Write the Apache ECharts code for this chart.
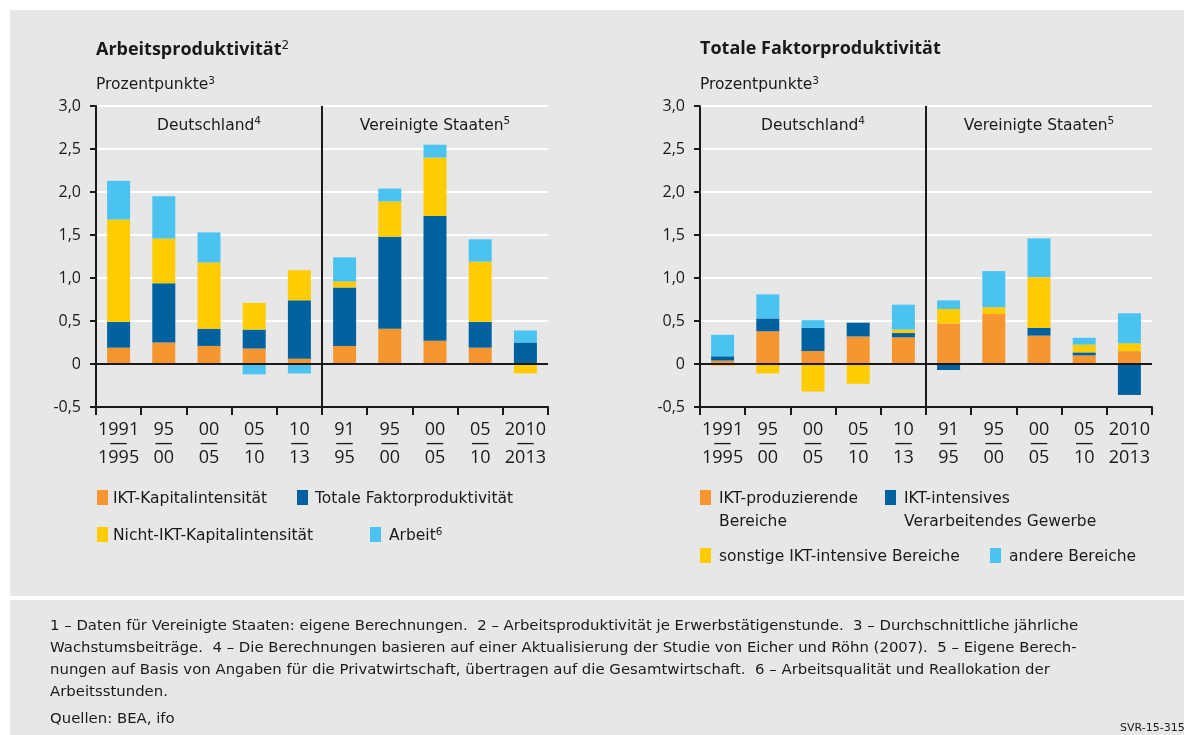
<!DOCTYPE html>
<html><head><meta charset="utf-8">
<script src="https://cdn.jsdelivr.net/npm/echarts@6/dist/echarts.min.js"></script>
<style>html,body{margin:0;padding:0;background:#fff}#c{width:1184px;height:735px}</style>
</head><body><div id="c"></div>
<script>
// ---- data ----
const catTop    = ['1991','95','00','05','10','91','95','00','05','2010'];
const catBottom = ['1995','00','05','10','13','95','00','05','10','2013'];
const regions   = ['Deutschland','Vereinigte Staaten'];
const regionSup = ['4','5'];

// Arbeitsproduktivität (left)
const leftNames = ['IKT-Kapitalintensität','Totale Faktorproduktivität','Nicht-IKT-Kapitalintensität','Arbeit'];
const leftIKT    = [0.19, 0.25, 0.21, 0.18, 0.06, 0.21, 0.41, 0.27, 0.19, 0.00];
const leftTFP    = [0.30, 0.69, 0.20, 0.22, 0.68, 0.68, 1.07, 1.45, 0.30, 0.25];
const leftNonIKT = [1.19, 0.52, 0.77, 0.31, 0.35, 0.07, 0.41, 0.68, 0.70, -0.11];
const leftArbeit = [0.45, 0.49, 0.35, -0.12, -0.11, 0.28, 0.15, 0.15, 0.26, 0.14];

// Totale Faktorproduktivität (right)
const rightNames = ['IKT-produzierende Bereiche','IKT-intensives Verarbeitendes Gewerbe','sonstige IKT-intensive Bereiche','andere Bereiche'];
const rightProd   = [0.04, 0.38, 0.15, 0.32, 0.31, 0.47, 0.58, 0.33, 0.10, 0.15];
const rightManuf  = [0.05, 0.15, 0.27, 0.16, 0.05, -0.07, -0.01, 0.09, 0.035, -0.36];
const rightOther  = [-0.02, -0.11, -0.32, -0.23, 0.04, 0.17, 0.08, 0.59, 0.09, 0.09];
const rightRest   = [0.25, 0.28, 0.09, 0.00, 0.29, 0.10, 0.42, 0.45, 0.08, 0.35];

const colors = ['#F7962F','#0061A1','#FFCC00','#4BC3F0'];
const NUMF = 'Open Sans';
const FONT = 'DejaVu Sans';
const TXT = '#1a1a1a';

const chart = echarts.init(document.getElementById('c'), null, {renderer:'canvas'});

const plotTop = 106, plotBottom = 407;
const grids = [
  {left: 96, width: 452, top: plotTop, height: plotBottom - plotTop},
  {left: 700, width: 452, top: plotTop, height: plotBottom - plotTop}
];

function xAxes(gi){
  return [{
    type:'category', gridIndex:gi, position:'bottom',
    data: catTop.map((t,i)=>t+'–'+catBottom[i]+'#'+i),
    axisLine:{onZero:false, lineStyle:{color:'#1a1a1a', width:2}},
    axisTick:{show:true, interval:0, length:8, lineStyle:{color:'#1a1a1a', width:2}},
    axisLabel:{interval:0, margin:15, color:TXT, fontFamily:NUMF,
      formatter:(v,i)=>'{a|'+catTop[i]+'}\n{d|—}\n{a|'+catBottom[i]+'}',
      rich:{a:{fontSize:18, lineHeight:15, fontFamily:NUMF, color:TXT},
            d:{fontSize:18, lineHeight:13, fontFamily:NUMF, color:TXT}}},
    splitLine:{show:false}
  },{
    type:'category', gridIndex:gi, position:'top',
    data: regions,
    axisLine:{show:false}, axisTick:{show:false},
    axisLabel:{inside:true, interval:0, margin:10, color:TXT, fontFamily:FONT, fontSize:15,
      formatter:(v,i)=>'{n|'+v+'}{s|'+regionSup[i]+'}',
      rich:{n:{fontSize:15.5, fontFamily:FONT, color:TXT}, s:{fontSize:10.5, fontFamily:FONT, color:TXT, padding:[0,0,8,0]}}},
    splitLine:{show:false}
  }];
}
function yAxis(gi){
  return {
    type:'value', gridIndex:gi, min:-0.5, max:3.0, interval:0.5,
    axisLine:{show:true, lineStyle:{color:'#1a1a1a', width:2}},
    axisTick:{show:true, length:6, lineStyle:{color:'#1a1a1a', width:2}},
    axisLabel:{margin:15, color:TXT, fontFamily:NUMF, fontSize:16,
      formatter:v=> v===0 ? '0' : v.toFixed(1).replace('.',',')},
    splitLine:{show:true, lineStyle:{color:'#ffffff', width:2}}
  };
}
function makeSeries(gi, names, arrs){
  return arrs.map((arr,k)=>({
    type:'bar', name:names[k], xAxisIndex:gi*2, yAxisIndex:gi, stack:'s'+gi,
    data:arr, barWidth:23, itemStyle:{color:colors[k]},
    markLine: k===0 ? {silent:true, symbol:'none', label:{show:false},
      lineStyle:{color:'#1a1a1a', width:2, type:'solid'}, data:[{yAxis:0}]} : undefined,
    z: 2
  }));
}

const LF = 15.5;
function sq(x,y,c){return {type:'rect', shape:{x:x,y:y,width:11,height:15}, style:{fill:c}};}
function tx(x,y,t,rich){return {type:'text', x:x, y:y, style:{text:t, font:LF+'px "'+FONT+'"', fill:TXT, rich:rich, lineHeight:23}};}
const supS = {fontSize:10.5, fontFamily:FONT, fill:TXT, padding:[0,0,7,0]};

const footnote = [
 '1 – Daten für Vereinigte Staaten: eigene Berechnungen.  2 – Arbeitsproduktivität je Erwerbstätigenstunde.  3 – Durchschnittliche jährliche',
 'Wachstumsbeiträge.  4 – Die Berechnungen basieren auf einer Aktualisierung der Studie von Eicher und Röhn (2007).  5 – Eigene Berech-',
 'nungen auf Basis von Angaben für die Privatwirtschaft, übertragen auf die Gesamtwirtschaft.  6 – Arbeitsqualität und Reallokation der',
 'Arbeitsstunden.'
].join('\n');

const baseGraphic = [
    {type:'rect', z:-10, silent:true, shape:{x:10,y:10,width:1174,height:586}, style:{fill:'#E7E7E7'}},
    {type:'rect', z:-10, silent:true, shape:{x:10,y:600,width:1174,height:135}, style:{fill:'#E7E7E7'}},
    {type:'text', x:96, y:40, style:{text:'{b|Arbeitsproduktivität}{s|2}', rich:{b:{fontSize:18, fontWeight:'bold', fontFamily:NUMF, fill:TXT}, s:{fontSize:12, fontFamily:FONT, fill:TXT, padding:[0,0,8,0]}}}},
    {type:'text', x:700, y:40, style:{text:'{b|Totale Faktorproduktivität}', rich:{b:{fontSize:18, fontWeight:'bold', fontFamily:NUMF, fill:TXT}}}},
    {type:'text', x:96, y:76, style:{text:'{n|Prozentpunkte}{s|3}', rich:{n:{fontSize:15.5, fontFamily:FONT, fill:TXT}, s:supS}}},
    {type:'text', x:700, y:76, style:{text:'{n|Prozentpunkte}{s|3}', rich:{n:{fontSize:15.5, fontFamily:FONT, fill:TXT}, s:supS}}},
    // legend left
    sq(97,490,colors[0]), tx(113,487,leftNames[0]),
    sq(297,490,colors[1]), tx(315,487,leftNames[1]),
    sq(97,527,colors[2]), tx(113,524,leftNames[2]),
    sq(370,527,colors[3]), tx(389,524,'{n|Arbeit}{s|6}', {n:{fontSize:LF,fontFamily:FONT,fill:TXT}, s:supS}),
    // legend right
    sq(700,490,colors[0]), tx(719,487,'IKT-produzierende\nBereiche'),
    sq(885,490,colors[1]), tx(904,487,'IKT-intensives\nVerarbeitendes Gewerbe'),
    sq(700,548,colors[2]), tx(719,545,rightNames[2]),
    sq(990,548,colors[3]), tx(1009,545,rightNames[3]),
    // footnotes
    {type:'text', x:50, y:615, style:{text:footnote, font:'14.9px "'+FONT+'"', fill:TXT, lineHeight:22}},
    {type:'text', x:50, y:712, style:{text:'Quellen: BEA, ifo', font:'14.9px "'+FONT+'"', fill:TXT}},
    {type:'text', x:1120, y:723, style:{text:'SVR-15-315', font:'11px "'+FONT+'"', fill:TXT}}
];

const option = {
  animation:false,
  backgroundColor:'#ffffff',
  grid: grids,
  xAxis: [...xAxes(0), ...xAxes(1)],
  yAxis: [yAxis(0), yAxis(1)],
  series: [...makeSeries(0, leftNames, [leftIKT,leftTFP,leftNonIKT,leftArbeit]),
           ...makeSeries(1, rightNames, [rightProd,rightManuf,rightOther,rightRest])],
  graphic: baseGraphic
};
chart.setOption(option);

// separator between Deutschland and Vereinigte Staaten, located through the axis scale
const seps = [0,1].map(gi=>{
  const a = chart.convertToPixel({xAxisIndex: gi*2}, 4);
  const b = chart.convertToPixel({xAxisIndex: gi*2}, 5);
  const x = Math.round((a+b)/2);
  const yTop = chart.convertToPixel({yAxisIndex: gi}, 3.0);
  const yBot = chart.convertToPixel({yAxisIndex: gi}, -0.5);
  return {type:'line', z:5, silent:true, shape:{x1:x, y1:yTop, x2:x, y2:yBot}, style:{stroke:'#1a1a1a', lineWidth:2}};
});
chart.setOption({graphic: baseGraphic.concat(seps)});
</script></body></html>
